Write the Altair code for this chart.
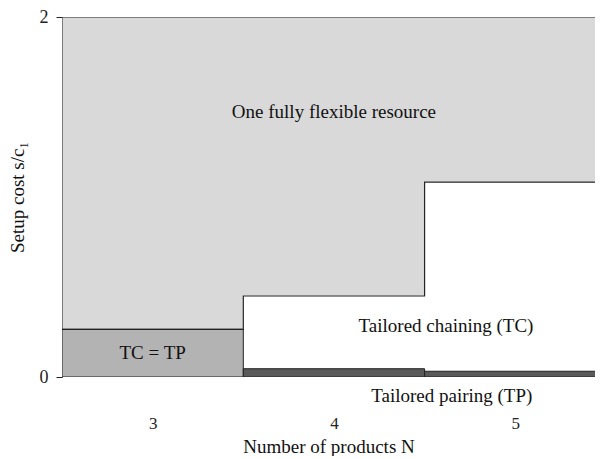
import altair as alt
import pandas as pd

N = [3, 4, 5]
tp_top = [0.265, 0.046, 0.032]   # top of TP region (TC = TP for N=3)
tc_top = [0.265, 0.45, 1.083]    # top of TC region
low_kind = ["TC = TP", "TP", "TP"]

y_ticks = [0, 0.2, 0.4, 0.6, 0.8, 1, 1.2, 1.4, 1.6, 1.8, 2]

labels = ["One fully flexible resource", "TC = TP", "Tailored chaining (TC)", "Tailored pairing (TP)"]
label_x = [4.0, 3.0, 4.618, 4.65]
label_y = [1.47, 0.133, 0.283, -0.105]

FONT = "Liberation Serif"
LINE = "#222222"
FS = 19

bg = pd.DataFrame({"x0": [2.5], "x1": [5.5], "y0": [0], "y1": [2]})
regions = pd.DataFrame({
    "N": N,
    "x0": [n - 0.5 for n in N],
    "x1": [n + 0.5 for n in N],
    "tp": tp_top,
    "tc": tc_top,
    "kind": low_kind,
})
txt = pd.DataFrame({"label": labels, "x": label_x, "y": label_y})

# boundary polyline along the top of the TC region (built from the arrays)
bx, by, bo = [], [], []
for i, n in enumerate(N):
    bx += [n - 0.5, n + 0.5]
    by += [tc_top[i], tc_top[i]]
    bo += [2 * i, 2 * i + 1]
boundary = pd.DataFrame({"x": bx, "y": by, "o": bo})

xscale = alt.Scale(domain=[2.5, 5.44], nice=False, zero=False)
yscale = alt.Scale(domain=[0, 2], nice=False)

base_x = alt.X(
    "x0:Q", scale=xscale,
    axis=alt.Axis(values=N, title="Number of products N", domain=False, ticks=False, grid=False,
                  labelPadding=38, labelFont=FONT, labelFontSize=17, labelColor="#222",
                  titleFont=FONT, titleFontSize=FS, titleFontWeight="normal", titleColor="#111",
                  titlePadding=6, format="d", labelOverlap=False),
)
base_y = alt.Y(
    "y0:Q", scale=yscale,
    axis=alt.Axis(values=y_ticks, title="Setup cost s/c₁", grid=False, tickSize=6,
                  tickColor=LINE, domainColor=LINE, labelOverlap=False,
                  labelExpr="datum.value == 0 || datum.value == 1 || datum.value == 2 ? datum.label : ''",
                  format="d", labelFont=FONT, labelFontSize=18, labelColor="#222", labelPadding=8,
                  titleFont=FONT, titleFontSize=FS, titleFontWeight="normal", titleColor="#111",
                  titlePadding=12),
)

background = alt.Chart(bg).mark_rect(fill="#d9d9d9", stroke=LINE, strokeWidth=1, clip=True).encode(
    x=base_x, x2="x1:Q", y=base_y, y2="y1:Q"
)

white = alt.Chart(regions).transform_filter("datum.N > 3").mark_rect(
    fill="white", stroke="white", strokeWidth=1, clip=True
).encode(x="x0:Q", x2="x1:Q", y="tp:Q", y2="tc:Q")

low = alt.Chart(regions).mark_rect(stroke=LINE, strokeWidth=1, clip=True).transform_calculate(
    zero="0"
).encode(
    x="x0:Q", x2="x1:Q", y="zero:Q", y2="tp:Q",
    fill=alt.Fill("kind:N", scale=alt.Scale(domain=["TC = TP", "TP"], range=["#b3b3b3", "#595959"]),
                  legend=None),
)

edge = alt.Chart(boundary).mark_line(color=LINE, strokeWidth=1.2, clip=True).encode(
    x="x:Q", y="y:Q", order="o:Q"
)

text = alt.Chart(txt).mark_text(font=FONT, fontSize=FS, color="#111").encode(
    x="x:Q", y="y:Q", text="label:N"
)

chart = alt.layer(background, white, low, edge, text).properties(
    width=533, height=360, padding=0
).configure_view(stroke=None)

chart.save("out.html", embed_options={"renderer": "svg", "actions": False})
